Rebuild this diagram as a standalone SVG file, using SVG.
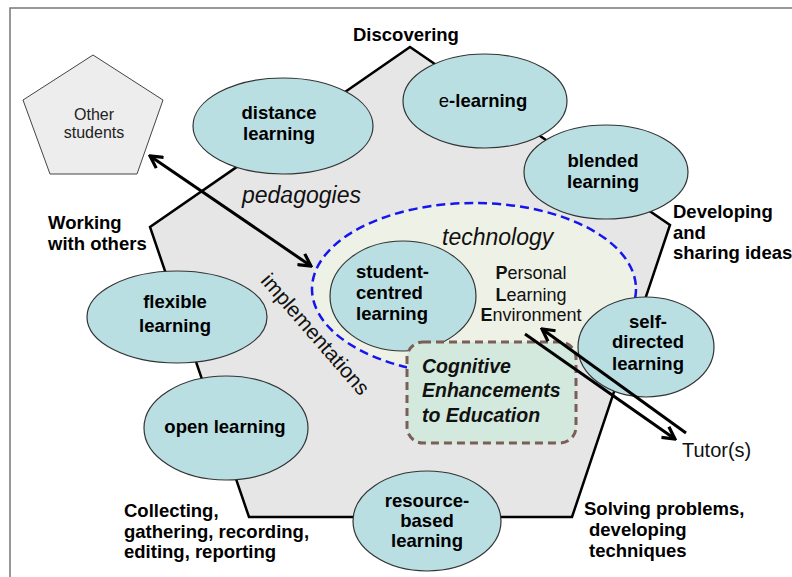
<svg xmlns="http://www.w3.org/2000/svg" width="792" height="577" viewBox="0 0 792 577">
<defs>
<style>
.lbl{font-family:"Liberation Sans",Arial,sans-serif;font-weight:bold;font-size:18.5px;fill:#000}
.node ellipse{fill:#b9dfe3;stroke:#333;stroke-width:1.2}
.nt{font-family:"Liberation Sans",Arial,sans-serif;font-weight:bold;font-size:18.5px;fill:#000;text-anchor:middle}
.it{font-family:"Liberation Sans",Arial,sans-serif;font-style:italic;font-size:23px;fill:#111}
.reg{font-family:"Liberation Sans",Arial,sans-serif;font-size:18px;fill:#111}
.conn line{stroke:#000;stroke-width:3;fill:none}
</style>
<marker id="arr" viewBox="0 0 16 16" refX="14" refY="8" markerWidth="16" markerHeight="16" markerUnits="userSpaceOnUse" orient="auto-start-reverse">
<path d="M2,1.5 L14,8 L2,14.5" fill="none" stroke="#000" stroke-width="3.2" stroke-linejoin="miter"/>
</marker>
</defs>
<rect width="792" height="577" fill="#fff"/>
<path d="M10,577 V8 H792" fill="none" stroke="#777" stroke-width="1.5"/>

<g id="pentagon">
<polygon points="410,47 670,225 572,517 249,517 150,227" fill="#e6e6e6" stroke="#000" stroke-width="2.5"/>
</g>

<g id="other-students">
<polygon points="93,55 163,100 137,174 50,174 23,100" fill="#ededed" stroke="#444" stroke-width="1"/>
<text x="94" y="120" font-family="Liberation Sans,Arial,sans-serif" font-size="16" fill="#222" text-anchor="middle">Other</text>
<text x="94" y="138" font-family="Liberation Sans,Arial,sans-serif" font-size="16" fill="#222" text-anchor="middle">students</text>
</g>

<g id="technology">
<ellipse cx="474" cy="289" rx="162" ry="86" fill="#eef1e5" stroke="#1515ee" stroke-width="2.5" stroke-dasharray="9,5"/>
<text class="it" x="442" y="245">technology</text>
</g>

<g id="distance-learning" class="node">
<ellipse cx="283" cy="126" rx="90" ry="48"/>
<text class="nt" x="279" y="119">distance</text>
<text class="nt" x="279" y="140">learning</text>
</g>

<g id="e-learning" class="node">
<ellipse cx="485" cy="101" rx="82" ry="47"/>
<text class="nt" x="483" y="107"><tspan font-weight="normal">e</tspan>-learning</text>
</g>

<g id="blended-learning" class="node">
<ellipse cx="606" cy="172" rx="82" ry="47"/>
<text class="nt" x="603" y="167">blended</text>
<text class="nt" x="603" y="188">learning</text>
</g>

<g id="student-centred-learning" class="node">
<ellipse cx="403" cy="296" rx="73" ry="55"/>
<text class="nt" x="356" y="278" text-anchor="start" style="text-anchor:start">student-</text>
<text class="nt" x="356" y="299" style="text-anchor:start">centred</text>
<text class="nt" x="356" y="320" style="text-anchor:start">learning</text>
</g>

<g id="ple">
<text class="reg" x="531" y="279" text-anchor="middle"><tspan font-weight="bold">P</tspan>ersonal</text>
<text class="reg" x="531" y="301" text-anchor="middle"><tspan font-weight="bold">L</tspan>earning</text>
<text class="reg" x="531" y="321" text-anchor="middle"><tspan font-weight="bold">E</tspan>nvironment</text>
</g>

<g id="flexible-learning" class="node">
<ellipse cx="177" cy="317" rx="90" ry="46"/>
<text class="nt" x="175" y="308">flexible</text>
<text class="nt" x="175" y="332">learning</text>
</g>

<g id="open-learning" class="node">
<ellipse cx="226" cy="428" rx="82" ry="52"/>
<text class="nt" x="225" y="433">open learning</text>
</g>

<g id="resource-based-learning" class="node">
<ellipse cx="427" cy="521" rx="74" ry="50"/>
<text class="nt" x="427" y="507">resource-</text>
<text class="nt" x="427" y="527">based</text>
<text class="nt" x="427" y="547">learning</text>
</g>

<g id="self-directed-learning" class="node">
<ellipse cx="646" cy="347" rx="68" ry="50"/>
<text class="nt" x="648" y="328">self-</text>
<text class="nt" x="648" y="348">directed</text>
<text class="nt" x="648" y="370">learning</text>
</g>

<g id="cognitive">
<rect x="407" y="342" width="169" height="101" rx="16" fill="#d4e9dd" stroke="#7b5e57" stroke-width="3" stroke-dasharray="8,5"/>
<text x="422" y="373" font-family="Liberation Sans,Arial,sans-serif" font-weight="bold" font-style="italic" font-size="19.5" fill="#111">Cognitive</text>
<text x="422" y="397" font-family="Liberation Sans,Arial,sans-serif" font-weight="bold" font-style="italic" font-size="19.5" fill="#111">Enhancements</text>
<text x="422" y="422" font-family="Liberation Sans,Arial,sans-serif" font-weight="bold" font-style="italic" font-size="19.5" fill="#111">to Education</text>
</g>

<g id="labels">
<text class="it" x="242" y="203">pedagogies</text>
<text font-family="Liberation Sans,Arial,sans-serif" font-size="21" fill="#111" text-anchor="middle" transform="translate(310,339) rotate(49)">implementations</text>
<text class="lbl" x="353" y="41">Discovering</text>
<text class="lbl" x="48" y="229">Working</text>
<text class="lbl" x="48" y="250">with others</text>
<text class="lbl" x="673" y="218">Developing</text>
<text class="lbl" x="673" y="239">and</text>
<text class="lbl" x="673" y="259">sharing ideas</text>
<text class="lbl" x="124" y="517">Collecting,</text>
<text class="lbl" x="124" y="538">gathering, recording,</text>
<text class="lbl" x="124" y="558">editing, reporting</text>
<text class="lbl" x="584" y="515">Solving problems,</text>
<text class="lbl" x="589" y="536">developing</text>
<text class="lbl" x="589" y="557">techniques</text>
<text x="682" y="457" font-family="Liberation Sans,Arial,sans-serif" font-size="20" fill="#111">Tutor(s)</text>
</g>

<g id="connectors" class="conn">
<line x1="150" y1="156" x2="311" y2="266" marker-start="url(#arr)" marker-end="url(#arr)"/>
<line x1="525" y1="334" x2="675" y2="439" stroke-width="2.5" marker-end="url(#arr)"/>
<line x1="686" y1="433" x2="542" y2="329" stroke-width="2.5" marker-end="url(#arr)"/>
</g>
</svg>
